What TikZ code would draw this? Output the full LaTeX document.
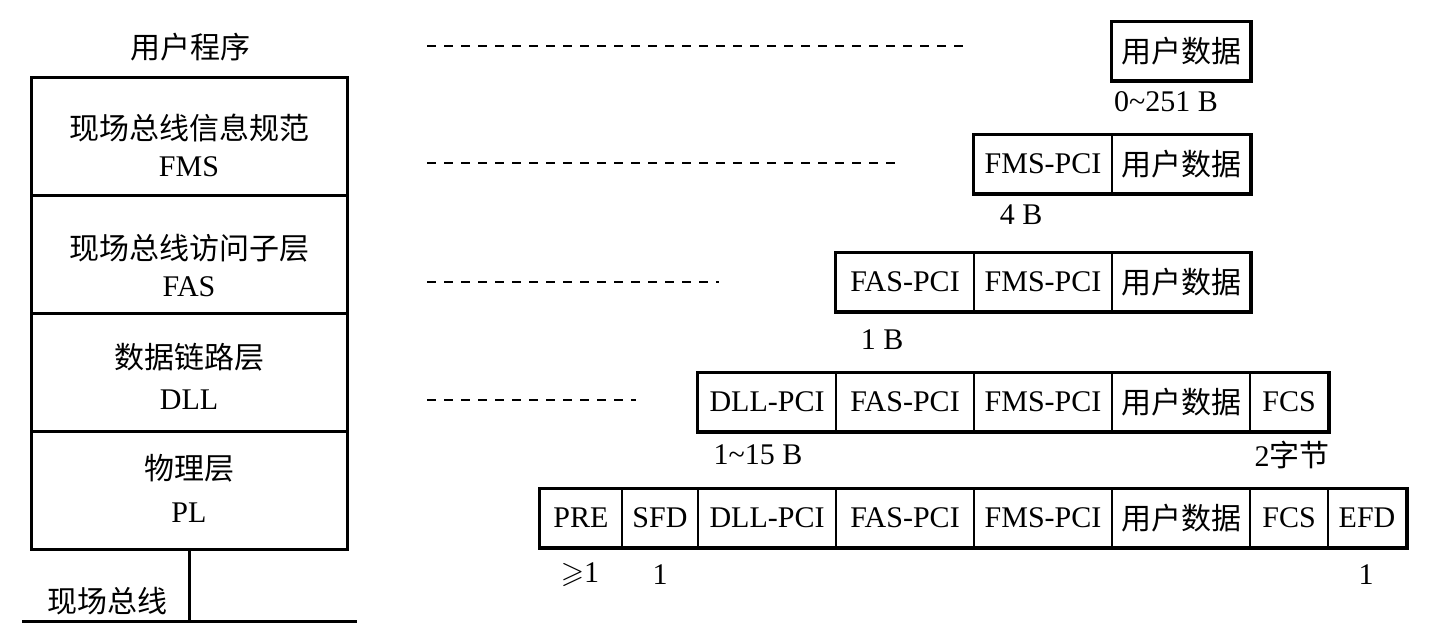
\documentclass[tikz,border=0pt]{standalone}
\usepackage{fontspec}
\usepackage{amssymb}
\setmainfont{Liberation Serif}
\newfontfamily\cjk{Noto Sans CJK SC}
\usetikzlibrary{positioning}

\tikzset{
    layer/.style={draw,line width=1.5pt,minimum width=158pt,minimum height=59pt,inner sep=0pt},
    laytext/.style={inner sep=0pt},
    cell/.style={draw,line width=1pt,minimum height=29pt,inner sep=0pt},
    frame/.style={line width=1.5pt},
    dashline/.style={line width=1.1pt,dash pattern=on 4.5pt off 4pt},
    sizelab/.style={inner sep=0pt}
}

\begin{document}
\begin{tikzpicture}[x=0.5pt,y=-0.5pt,font=\fontsize{15}{19.5}\selectfont]
    \useasboundingbox (0,0) rectangle (1440,633);

    % protocol stack
    \node[laytext] (app) at (190,47) {{\cjk 用户程序}};
    \foreach \i/\cn/\en/\cy/\ey in {1/现场总线信息规范/FMS/-8/31, 2/现场总线访问子层/FAS/-6/33,
                                      3/数据链路层/DLL/-15/28, 4/物理层/PL/-22/23} {
        \node[layer] (L\i) at (189,{136+118*(\i-1)}) {};
        \node[laytext] (C\i) at ([yshift=-\cy*0.5pt]L\i.center) {{\cjk \cn}};
        \node[laytext] (E\i) at ([yshift=-\ey*0.5pt]L\i.center) {\en};
    }
    \coordinate (busL) at (22,621);
    \coordinate (busR) at (357,621);
    \draw[line width=1.5pt] (L4.south) -- (L4.south |- busL);
    \draw[line width=1.5pt] (busL) -- (busR);
    \node[laytext] (bus) at (107,601) {{\cjk 现场总线}};

    % dashed guides
    \foreach \r/\y/\e in {1/46/967, 2/163/897, 3/282/719, 4/400/636} {
        \coordinate (ds\r) at (427,\y);
        \coordinate (de\r) at (\e,\y);
        \draw[dashline] (ds\r) -- (de\r);
    }

    % frames
    \foreach \r/\nm/\txt/\x/\w/\y in {
        1/U/{\cjk 用户数据}/1112/138/51,
        2/FMS/FMS-PCI/974/138/164, 2/U/{\cjk 用户数据}/1112/138/164,
        3/FAS/FAS-PCI/836/138/282, 3/FMS/FMS-PCI/974/138/282, 3/U/{\cjk 用户数据}/1112/138/282,
        4/DLL/DLL-PCI/698/138/402, 4/FAS/FAS-PCI/836/138/402, 4/FMS/FMS-PCI/974/138/402,
        4/U/{\cjk 用户数据}/1112/138/402, 4/FCS/FCS/1250/78/402,
        5/PRE/PRE/540/82/518, 5/SFD/SFD/622/76/518, 5/DLL/DLL-PCI/698/138/518,
        5/FAS/FAS-PCI/836/138/518, 5/FMS/FMS-PCI/974/138/518, 5/U/{\cjk 用户数据}/1112/138/518,
        5/FCS/FCS/1250/78/518, 5/EFD/EFD/1328/78/518} {
        \node[cell,minimum width=\w*0.5pt] (r\r\nm) at ({\x+\w/2},\y) {\txt};
    }
    \draw[frame] (r1U.north west) rectangle (r1U.south east);
    \draw[frame] (r2FMS.north west) rectangle (r2U.south east);
    \draw[frame] (r3FAS.north west) rectangle (r3U.south east);
    \draw[frame] (r4DLL.north west) rectangle (r4FCS.south east);
    \draw[frame] (r5PRE.north west) rectangle (r5EFD.south east);

    % field sizes
    \node[sizelab] (s1) at (1166,102) {0\textasciitilde251 B};
    \node[sizelab] (s2) at (1021,215) {4 B};
    \node[sizelab] (s3) at (882,340) {1 B};
    \node[sizelab] (s4) at (758,455) {1\textasciitilde15 B};
    \node[sizelab] (s5) at (1292,455) {2{\cjk 字节}};
    \node[sizelab] (s6) at (580,575) {$\geqslant$1};
    \node[sizelab] (s7) at (660,575) {1};
    \node[sizelab] (s8) at (1366,575) {1};
\end{tikzpicture}
\end{document}
